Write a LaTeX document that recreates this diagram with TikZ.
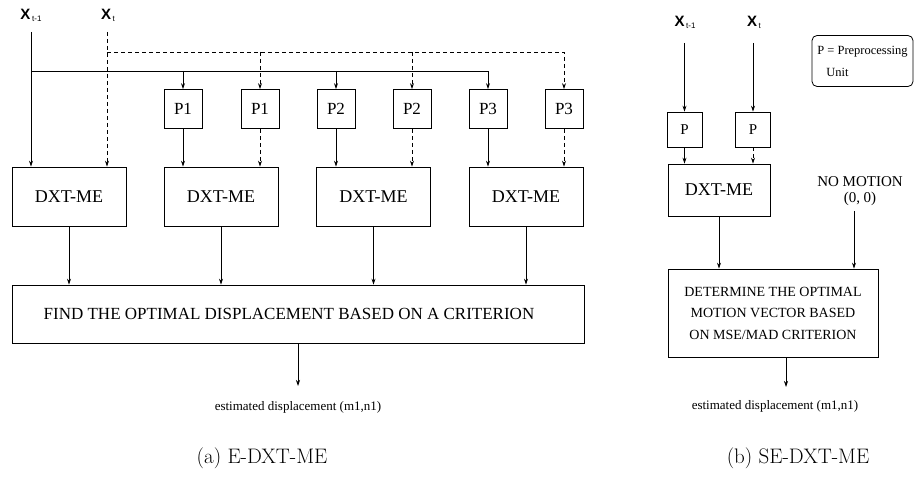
\documentclass[tikz,border=0pt]{standalone}
\usepackage{fontspec}
\setmainfont{Liberation Serif}
\newfontfamily\lblfont{Liberation Sans}
\newfontfamily\capfont{Latin Modern Roman}
\usetikzlibrary{arrows.meta}
\tikzset{
  box/.style={draw, line width=0.8pt, inner sep=0pt, align=center},
  pbox/.style={box, minimum width=38pt, minimum height=39pt, font=\fontsize{17}{17}\selectfont},
  dxtbox/.style={box, minimum width=114pt, minimum height=59pt, font=\fontsize{18}{18}\selectfont},
  arr/.style={line width=0.7pt, -{Stealth[length=6pt,width=4pt]}},
  dsh/.style={dash pattern=on 4pt off 3pt},
  inlbl/.style={inner sep=0pt, font=\lblfont},
  txt/.style={inner sep=0pt},
  captxt/.style={inner sep=0pt, font=\capfont\fontsize{21}{21}\selectfont},
}
\newcommand{\xlbl}[1]{{\bfseries\fontsize{15}{15}\selectfont X}\,\raisebox{-0.35ex}{\fontsize{8}{8}\selectfont #1}}
\begin{document}
\begin{tikzpicture}[x=1pt, y=-1pt]
\useasboundingbox (0,0) rectangle (916,486);

% ---------------- (a) E-DXT-ME ----------------
\node[inlbl] (xa1) at (31,15) {\xlbl{t-1}};
\node[inlbl] (xa2) at (108,15) {\xlbl{t}};
\coordinate (xa1s) at (31,32);
\coordinate (xa2s) at (107,32);

% preprocessing units
\node[pbox] (p1a) at (183,109) {P1};
\node[pbox] (p1b) at (260,109) {P1};
\node[pbox] (p2a) at (336,109) {P2};
\node[pbox] (p2b) at (412,109) {P2};
\node[pbox] (p3a) at (488,109) {P3};
\node[pbox] (p3b) at (564,109) {P3};

% motion estimators
\node[dxtbox] (d1) at (69,196.5) {DXT-ME};
\node[dxtbox] (d2) at (221,196.5) {DXT-ME};
\node[dxtbox] (d3) at (373.5,196.5) {DXT-ME};
\node[dxtbox] (d4) at (526,196.5) {DXT-ME};

% decision block
\node[box, minimum width=572pt, minimum height=58pt, font=\fontsize{17}{17}\selectfont]
  (finda) at (298,314) {\hspace*{-18pt}FIND THE OPTIMAL DISPLACEMENT BASED ON A CRITERION};
\coordinate (outa) at (298,386);
\node[txt, font=\fontsize{13}{13}\selectfont] (esta) at (298,407) {estimated displacement (m1,n1)};

% direct inputs
\draw[arr] (xa1s) -- (xa1s |- d1.north);
\draw[arr, dsh] (xa2s) -- (xa2s |- d1.north);

% solid bus carrying X_{t-1}
\coordinate (sbus) at (31,71);
\draw[arr] (sbus) -| (p3a.north);
\draw[arr] (sbus -| p1a.north) -- (p1a.north);
\draw[arr] (sbus -| p2a.north) -- (p2a.north);

% dashed bus carrying X_t
\coordinate (dbus) at (107,52);
\draw[arr, dsh] (dbus) -| (p3b.north);
\draw[arr, dsh] (dbus -| p1b.north) -- (p1b.north);
\draw[arr, dsh] (dbus -| p2b.north) -- (p2b.north);

% preprocessed frames into the estimators
\draw[arr] (p1a.south) -- (p1a.south |- d2.north);
\draw[arr, dsh] (p1b.south) -- (p1b.south |- d2.north);
\draw[arr] (p2a.south) -- (p2a.south |- d3.north);
\draw[arr, dsh] (p2b.south) -- (p2b.south |- d3.north);
\draw[arr] (p3a.south) -- (p3a.south |- d4.north);
\draw[arr, dsh] (p3b.south) -- (p3b.south |- d4.north);

% estimators into the decision block
\foreach \d in {d1,d2,d3,d4}
  \draw[arr] (\d.south) -- (\d.south |- finda.north);
\draw[arr] (finda.south) -- (outa);

\node[captxt] (capa) at (262,458) {(a) E-DXT-ME};

% ---------------- (b) SE-DXT-ME ----------------
\node[inlbl] (xb1) at (685,22) {\xlbl{t-1}};
\node[inlbl] (xb2) at (754,22) {\xlbl{t}};
\coordinate (xb1s) at (684.5,43);
\coordinate (xb2s) at (753,43);

\node[box, minimum width=35pt, minimum height=35pt, font=\fontsize{15}{15}\selectfont] (pb1) at (684.5,129.5) {P};
\node[box, minimum width=35pt, minimum height=35pt, font=\fontsize{15}{15}\selectfont] (pb2) at (753,129.5) {P};

\node[box, minimum width=102pt, minimum height=52pt, font=\fontsize{18}{18}\selectfont] (db) at (719,190) {DXT-ME};

\node[txt, align=center, font=\fontsize{15}{16}\selectfont] (nomo) at (860,191) {NO MOTION\\(0, 0)};
\coordinate (nomos) at (854,211);

\node[box, minimum width=210pt, minimum height=88pt, font=\fontsize{14}{21.5}\selectfont]
  (detb) at (773,313) {DETERMINE THE OPTIMAL\\MOTION VECTOR BASED\\ON MSE/MAD CRITERION};
\coordinate (outb) at (786,387);
\node[txt, font=\fontsize{13}{13}\selectfont] (estb) at (775,406) {estimated displacement (m1,n1)};

\node[draw, line width=0.8pt, rounded corners=5pt, minimum width=101pt, minimum height=51pt,
      inner sep=0pt, align=left, font=\fontsize{12.5}{22}\selectfont]
  (legend) at (862.5,61) {P = Preprocessing\\\hspace*{9pt}Unit};

\draw[arr] (xb1s) -- (pb1.north);
\draw[arr] (xb2s) -- (pb2.north);
\draw[arr] (pb1.south) -- (pb1.south |- db.north);
\draw[arr, dsh] (pb2.south) -- (pb2.south |- db.north);
\draw[arr] (db.south) -- (db.south |- detb.north);
\draw[arr] (nomos) -- (nomos |- detb.north);
\draw[arr] (detb.south -| outb) -- (outb);

\node[captxt] (capb) at (798,458) {(b) SE-DXT-ME};
\end{tikzpicture}
\end{document}
